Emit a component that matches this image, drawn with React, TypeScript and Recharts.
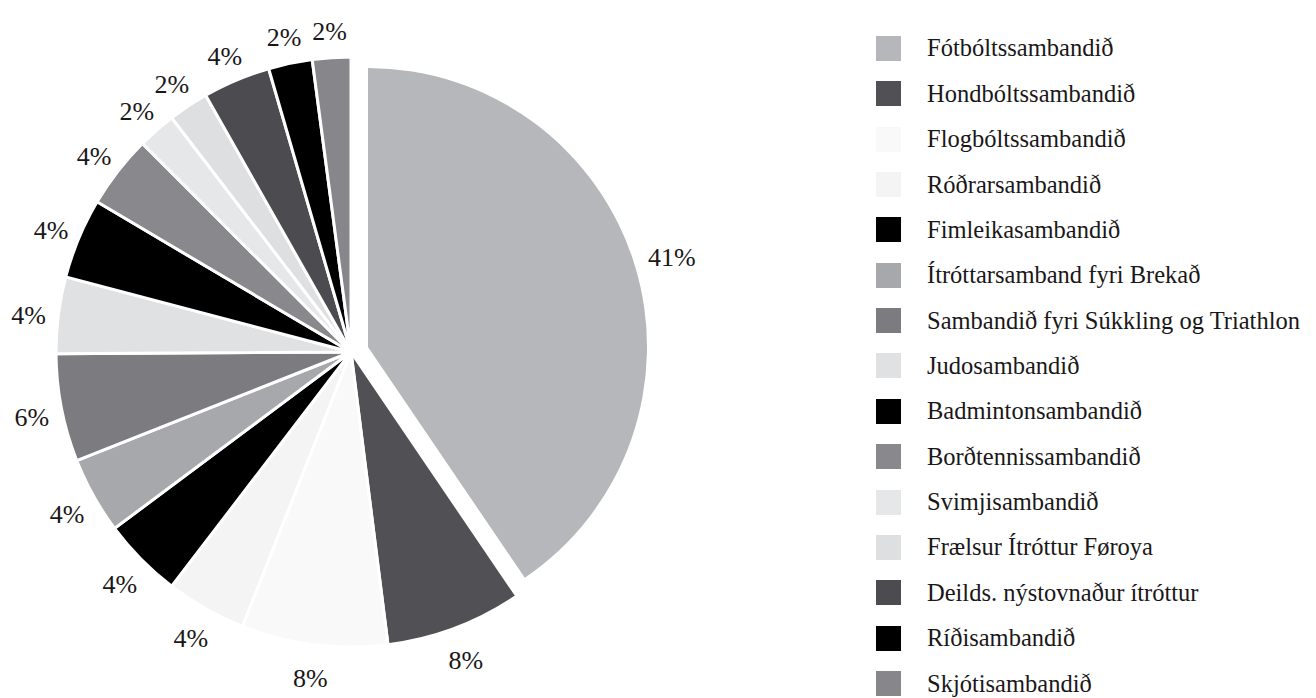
import React from "react";
import { PieChart, Pie, Cell, Legend } from "recharts";

const names = [
  "Fótbóltssambandið",
  "Hondbóltssambandið",
  "Flogbóltssambandið",
  "Róðrarsambandið",
  "Fimleikasambandið",
  "Ítróttarsamband fyri Brekað",
  "Sambandið fyri Súkkling og Triathlon",
  "Judosambandið",
  "Badmintonsambandið",
  "Borðtennissambandið",
  "Svimjisambandið",
  "Frælsur Ítróttur Føroya",
  "Deilds. nýstovnaður ítróttur",
  "Ríðisambandið",
  "Skjótisambandið",
];

const values = [40.5, 7.5, 8.0, 4.4, 4.4, 4.2, 5.9, 4.2, 4.4, 4.0, 2.1, 2.2, 3.7, 2.4, 2.1];

const colors = [
  "#b6b7ba",
  "#505055",
  "#f9f9f9",
  "#f3f4f3",
  "#000000",
  "#a7a8ab",
  "#7c7c80",
  "#e0e1e2",
  "#000000",
  "#89898d",
  "#e6e7e8",
  "#dedfe0",
  "#4c4b50",
  "#000000",
  "#87878b",
];

const data = names.map((name, i) => ({ name, value: values[i] }));

const FONT = "'Liberation Serif', 'Times New Roman', serif";
const RAD = Math.PI / 180;

const makeLabel = (show: (i: number) => boolean, offset: number) => (props: any) => {
  const { cx, cy, midAngle, outerRadius, index, value } = props;
  if (!show(index)) return <g />;
  const r = outerRadius + offset;
  const x = cx + r * Math.cos(-midAngle * RAD);
  const y = cy + r * Math.sin(-midAngle * RAD) + 4;
  return (
    <g>
      <text
        x={x}
        y={y}
        textAnchor="middle"
        dominantBaseline="central"
        fill="#1a1718"
        fontFamily={FONT}
        fontSize={26}
        style={{ fontFamily: FONT, fontSize: 26 }}
      >
        {Math.round(value)}%
      </text>
    </g>
  );
};

const LegendContent = () => (
  <div style={{ fontFamily: FONT }}>
    {names.map((n, i) => (
      <div
        key={n}
        style={{ display: "flex", alignItems: "center", height: 45.36 }}
      >
        <div style={{ width: 25, height: 25, background: colors[i], flex: "none" }} />
        <div
          style={{
            marginLeft: 26,
            fontSize: 24.5,
            color: "#1a1718",
            whiteSpace: "nowrap",
          }}
        >
          {n}
        </div>
      </div>
    ))}
  </div>
);

export default function App() {
  return (
    <div style={{ position: "absolute", left: 0, top: 0, width: 1316, height: 698, background: "#fff" }}>
      <PieChart width={1316} height={698} margin={{ top: 0, right: 0, bottom: 0, left: 0 }}>
        <Pie
          data={data}
          dataKey="value"
          nameKey="name"
          cx={351}
          cy={352}
          outerRadius={295}
          startAngle={90}
          endAngle={-270}
          stroke="#ffffff"
          strokeWidth={3}
          labelLine={false}
          label={makeLabel((i) => i !== 0, 30)}
          isAnimationActive={false}
        >
          {data.map((d, i) => (
            <Cell
              key={d.name}
              fill={i === 0 ? "transparent" : colors[i]}
              stroke={i === 0 ? "none" : "#ffffff"}
            />
          ))}
        </Pie>
        <Pie
          data={data}
          dataKey="value"
          nameKey="name"
          cx={368}
          cy={347}
          outerRadius={279}
          startAngle={90}
          endAngle={-270}
          stroke="none"
          labelLine={false}
          label={makeLabel((i) => i === 0, 39)}
          isAnimationActive={false}
        >
          {data.map((d, i) => (
            <Cell key={d.name} fill={i === 0 ? colors[0] : "transparent"} stroke="none" />
          ))}
        </Pie>
        <Legend
          layout="vertical"
          align="right"
          verticalAlign="top"
          content={() => <LegendContent />}
          wrapperStyle={{ left: 876, top: 25.8, width: 440 }}
        />
      </PieChart>
    </div>
  );
}
